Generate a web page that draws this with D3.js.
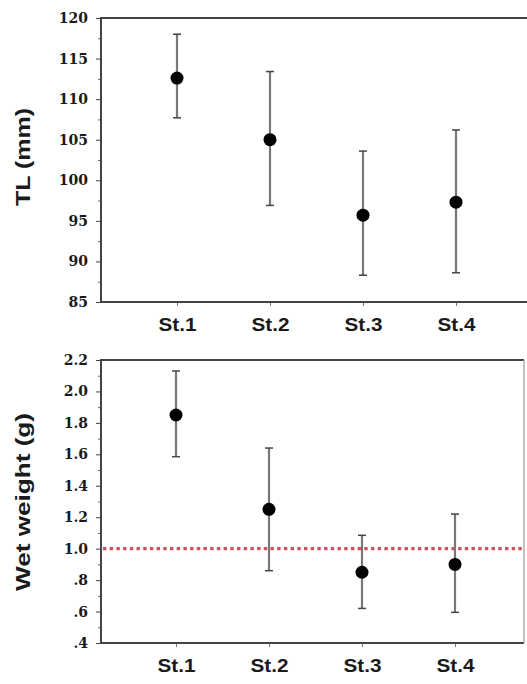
<!DOCTYPE html>
<html lang="en">
<head>
<meta charset="UTF-8">
<title>TL and wet weight by station</title>
<script src="https://cdn.jsdelivr.net/npm/d3@7/dist/d3.min.js"></script>
<style>
  body { margin: 0; background: #fff; }
  svg { display: block; }
</style>
</head>
<body>
<svg width="527" height="684"></svg>
<script>
  // data
  var stations = ["St.1", "St.2", "St.3", "St.4"];

  var tlMean  = [112.6, 105.0, 95.7, 97.3];
  var tlLow   = [107.7, 96.9, 88.3, 88.6];
  var tlHigh  = [118.0, 113.4, 103.6, 106.2];
  var tlTicks = [85, 90, 95, 100, 105, 110, 115, 120];

  var wwMean  = [1.85, 1.25, 0.85, 0.90];
  var wwLow   = [1.585, 0.86, 0.62, 0.595];
  var wwHigh  = [2.13, 1.64, 1.085, 1.22];
  var wwTicks = [0.4, 0.6, 0.8, 1.0, 1.2, 1.4, 1.6, 1.8, 2.0, 2.2];
  var wwRef   = 1.0;

  var svg = d3.select("svg");

  function panel(opt) {
    var y = d3.scaleLinear().domain(opt.domain).range([opt.bottom, opt.top]);
    var x = d3.scalePoint().domain(stations).range(opt.xr);
    var g = svg.append("g");

    // minor ticks
    g.append("g")
      .attr("transform", "translate(" + opt.left + ",0)")
      .call(d3.axisLeft(y).tickValues(opt.minor).tickSize(3).tickFormat(""))
      .call(a => a.select(".domain").remove())
      .selectAll("line").attr("stroke", "#666");

    // y axis
    var ya = g.append("g")
      .attr("transform", "translate(" + opt.left + ",0)")
      .call(d3.axisLeft(y).tickValues(opt.ticks).tickSize(5).tickPadding(8).tickFormat(opt.fmt))
      .call(a => a.select(".domain").remove());
    ya.selectAll("line").attr("stroke", "#444");
    ya.selectAll("text")
      .attr("font-family", "DejaVu Serif")
      .attr("font-weight", "bold")
      .attr("font-size", 14)
      .attr("fill", "#1a1a1a");

    // x axis
    var xa = g.append("g")
      .attr("transform", "translate(0," + opt.bottom + ")")
      .call(d3.axisBottom(x).tickSize(4).tickPadding(12))
      .call(a => a.select(".domain").remove());
    xa.selectAll("line").attr("stroke", "#777");
    xa.selectAll("text")
      .attr("font-family", "Liberation Sans")
      .attr("font-weight", "bold")
      .attr("font-size", 19)
      .attr("fill", "#1a1a1a")
      .attr("textLength", 38)
      .attr("lengthAdjust", "spacingAndGlyphs");

    // frame
    g.append("path")
      .attr("fill", "none")
      .attr("stroke", "#444")
      .attr("stroke-width", 2)
      .attr("d", "M" + opt.right + "," + opt.top + "H" + opt.left + "V" + opt.bottom + "H" + opt.right);
    if (opt.rightBorder) {
      g.append("line")
        .attr("x1", opt.right).attr("x2", opt.right)
        .attr("y1", opt.top).attr("y2", opt.bottom)
        .attr("stroke", "#999").attr("stroke-width", 1.2);
    }

    if (opt.ref != null) {
      g.append("line")
        .attr("x1", opt.left + 2).attr("x2", opt.right)
        .attr("y1", y(opt.ref)).attr("y2", y(opt.ref))
        .attr("stroke", "#d2505e")
        .attr("stroke-width", 3.2)
        .attr("stroke-dasharray", "3.4,3.3");
    }

    var pts = stations.map((s, i) => ({s: s, m: opt.mean[i], lo: opt.low[i], hi: opt.high[i]}));
    var bars = g.append("g").selectAll("g").data(pts).join("g");
    bars.append("line")
      .attr("x1", d => x(d.s)).attr("x2", d => x(d.s))
      .attr("y1", d => y(d.lo)).attr("y2", d => y(d.hi))
      .attr("stroke", "#777").attr("stroke-width", 2.2);
    bars.selectAll(".cap").data(d => [d.lo, d.hi].map(v => ({s: d.s, v: v})))
      .join("line")
      .attr("x1", d => x(d.s) - 4).attr("x2", d => x(d.s) + 4)
      .attr("y1", d => y(d.v)).attr("y2", d => y(d.v))
      .attr("stroke", "#444").attr("stroke-width", 1.5);
    bars.append("circle")
      .attr("cx", d => x(d.s)).attr("cy", d => y(d.m))
      .attr("r", 6.5).attr("fill", "#000");

    svg.append("text")
      .attr("text-anchor", "middle")
      .attr("transform", "translate(" + opt.titleX + "," + opt.titleY + ") rotate(-90)")
      .attr("font-family", "Liberation Sans")
      .attr("font-weight", "bold")
      .attr("font-size", 21)
      .attr("fill", "#1a1a1a")
      .attr("textLength", opt.titleLen)
      .attr("lengthAdjust", "spacingAndGlyphs")
      .text(opt.title);
  }

  panel({
    domain: [85, 120], top: 18, bottom: 302, left: 101, right: 530,
    xr: [177, 456], ticks: tlTicks,
    minor: d3.range(87.5, 120, 5),
    fmt: d3.format("d"),
    mean: tlMean, low: tlLow, high: tlHigh,
    title: "TL (mm)", titleX: 30, titleY: 157, titleLen: 98, rightBorder: false
  });

  panel({
    domain: [0.4, 2.2], top: 360, bottom: 643, left: 101, right: 524,
    xr: [176, 455], ticks: wwTicks,
    minor: d3.range(0.5, 2.2, 0.2),
    fmt: d => d < 1 ? d3.format(".1f")(d).replace("0.", ".") : d3.format(".1f")(d),
    mean: wwMean, low: wwLow, high: wwHigh, ref: wwRef,
    title: "Wet weight (g)", titleX: 30, titleY: 502, titleLen: 178, rightBorder: true
  });
</script>
</body>
</html>
